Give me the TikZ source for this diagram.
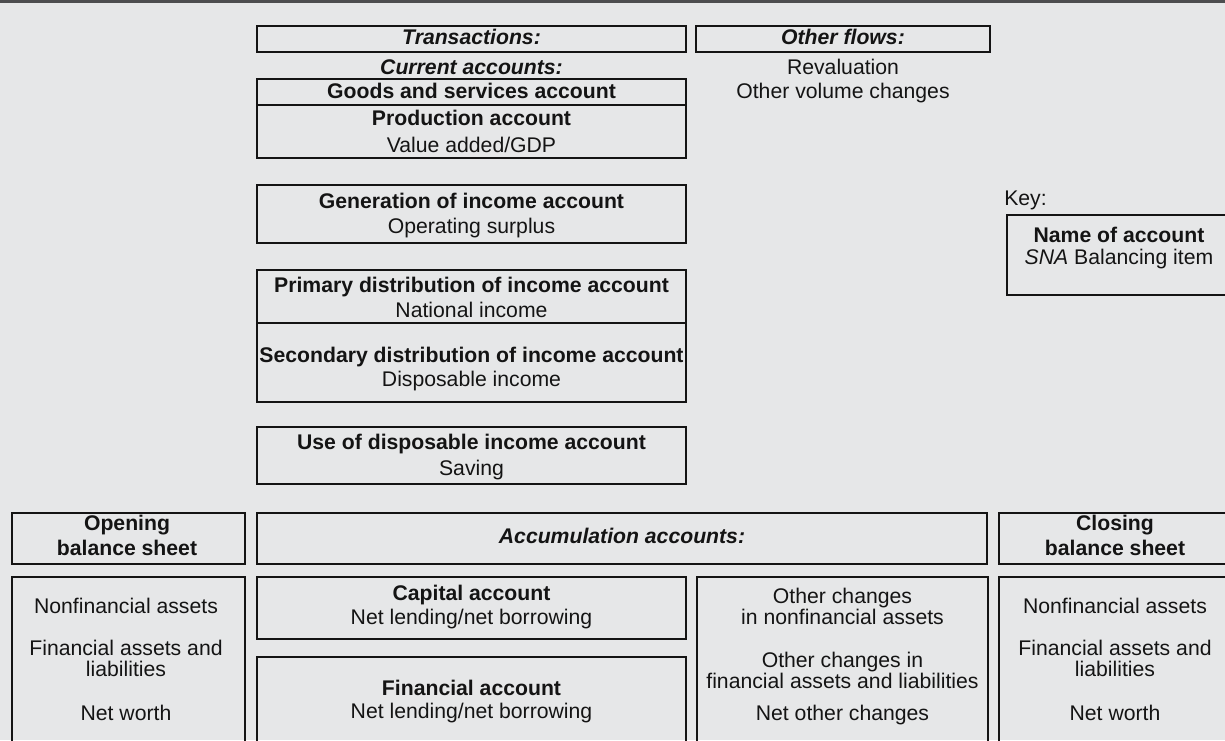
\documentclass[tikz,border=0pt]{standalone}
\usepackage{fontspec}
\setmainfont{Liberation Sans}
\definecolor{bgc}{HTML}{E6E7E8}
\definecolor{topband}{HTML}{4D4D4F}
\definecolor{ink}{HTML}{141414}
\newcommand{\mybox}[5]{%
  \node[acctbox, minimum width={(#4-#2)*0.75pt}, minimum height={(#5-#3)*0.75pt}] (#1) at ({(#2+#4)/2},{(#3+#5)/2}) {};}
\begin{document}
\begin{tikzpicture}[x=0.75pt,y=-0.75pt,
  acctbox/.style={draw=ink, line width=1.9pt, inner sep=0pt, fill=none},
  txt/.style={anchor=base, inner sep=0pt, text=ink, font=\fontsize{15.9pt}{19pt}\selectfont},
  btxt/.style={txt, font=\fontsize{15.9pt}{19pt}\selectfont\bfseries},
  ittxt/.style={txt, font=\fontsize{15.9pt}{19pt}\selectfont\bfseries\itshape}]
\clip (0,0) rectangle (1225,740);
\fill[bgc] (0,0) rectangle (1225,740);
\fill[topband] (0,0) rectangle (1225,2.5);
% boxes
\mybox{trans}{257}{26}{686}{52}
\mybox{oflows}{696}{26}{990}{52}
\mybox{goods}{257}{79}{686}{105}
\mybox{prod}{257}{105}{686}{158}
\mybox{gen}{257}{185}{686}{243}
\mybox{prim}{257}{270}{686}{323}
\mybox{sec}{257}{323}{686}{402}
\mybox{use}{257}{427}{686}{484}
\mybox{open}{12}{513}{245}{564}
\mybox{accum}{257}{513}{987}{564}
\mybox{close}{999}{513}{1232}{564}
\mybox{openlow}{12}{577}{245}{742}
\mybox{cap}{257}{577}{686}{639}
\mybox{fin}{257}{657}{686}{742}
\mybox{othch}{697}{577}{988}{742}
\mybox{closelow}{999}{577}{1232}{742}
\mybox{key}{1007}{215}{1232}{295}
% top texts
\node[ittxt] (ttrans) at (471.5,44) {Transactions:};
\node[ittxt] (toflows) at (843,44) {Other flows:};
\node[ittxt] (tcur) at (471.5,74) {Current accounts:};
\node[txt] (treval) at (843,74) {Revaluation};
\node[txt] (tovol) at (843,98) {Other volume changes};
\node[btxt] (tgoods) at (471.5,98) {Goods and services account};
\node[btxt] (tprod) at (471.5,125) {Production account};
\node[txt] (tva) at (471.5,152) {Value added/GDP};
\node[btxt] (tgen) at (471.5,208) {Generation of income account};
\node[txt] (tops) at (471.5,233) {Operating surplus};
\node[btxt] (tprim) at (471.5,292) {Primary distribution of income account};
\node[txt] (tni) at (471.5,317) {National income};
\node[btxt] (tsec) at (471.5,362) {Secondary distribution of income account};
\node[txt] (tdi) at (471.5,386) {Disposable income};
\node[btxt] (tuse) at (471.5,449) {Use of disposable income account};
\node[txt] (tsav) at (471.5,475) {Saving};
% key
\node[txt, anchor=base west] (tkey) at (1004,205) {Key:};
\node[btxt] (tname) at (1119,242) {Name of account};
\node[txt] (tbal) at (1119,264) {\textit{SNA} Balancing item};
% bottom headers
\node[btxt] (topen1) at (127,530) {Opening};
\node[btxt] (topen2) at (127,555) {balance sheet};
\node[ittxt] (taccum) at (622,543) {Accumulation accounts:};
\node[btxt] (tclose1) at (1115,530) {Closing};
\node[btxt] (tclose2) at (1115,555) {balance sheet};
% opening balance sheet
\node[txt] (onf) at (126,613) {Nonfinancial assets};
\node[txt] (ofa1) at (126,655) {Financial assets and};
\node[txt] (ofa2) at (126,676) {liabilities};
\node[txt] (onw) at (126,720) {Net worth};
% capital / financial
\node[btxt] (tcap) at (471.5,600) {Capital account};
\node[txt] (tcapnl) at (471.5,624) {Net lending/net borrowing};
\node[btxt] (tfin) at (471.5,695) {Financial account};
\node[txt] (tfinnl) at (471.5,718) {Net lending/net borrowing};
% other changes
\node[txt] (oc1) at (842.5,603) {Other changes};
\node[txt] (oc2) at (842.5,624) {in nonfinancial assets};
\node[txt] (oc3) at (842.5,667) {Other changes in};
\node[txt] (oc4) at (842.5,688) {financial assets and liabilities};
\node[txt] (oc5) at (842.5,720) {Net other changes};
% closing balance sheet
\node[txt] (cnf) at (1115,613) {Nonfinancial assets};
\node[txt] (cfa1) at (1115,655) {Financial assets and};
\node[txt] (cfa2) at (1115,676) {liabilities};
\node[txt] (cnw) at (1115,720) {Net worth};
\end{tikzpicture}
\end{document}
